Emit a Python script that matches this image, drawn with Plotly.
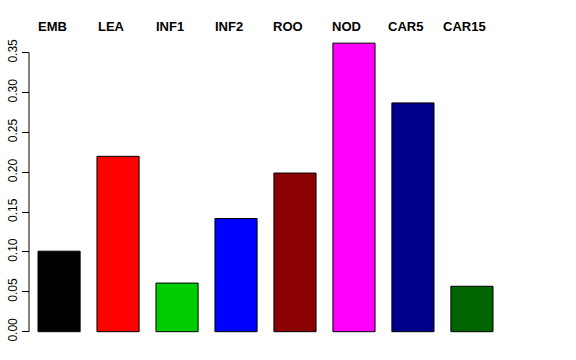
import plotly.graph_objects as go

categories = ["EMB", "LEA", "INF1", "INF2", "ROO", "NOD", "CAR5", "CAR15"]
values = [0.101, 0.220, 0.061, 0.142, 0.199, 0.362, 0.287, 0.057]
colors = ["#000000", "#FF0000", "#00CD00", "#0000FF", "#8B0000", "#FF00FF", "#00008B", "#006400"]
tick_vals = [0.00, 0.05, 0.10, 0.15, 0.20, 0.25, 0.30, 0.35]
tick_text = ["0.00", "0.05", "0.10", "0.15", "0.20", "0.25", "0.30", "0.35"]

# R barplot style positions (width 1, space 0.4)
xpos = [0.9 + 1.4 * i for i in range(len(categories))]

fig = go.Figure()
fig.add_trace(go.Bar(
    x=xpos, y=values, width=1.0,
    marker=dict(color=colors, line=dict(color="#000000", width=1)),
    showlegend=False, hoverinfo="skip",
))

W, H = 576, 360
axis_px = 29
fig.update_layout(
    width=W, height=H,
    margin=dict(l=0, r=0, t=0, b=0),
    plot_bgcolor="white", paper_bgcolor="white",
    font=dict(family="Liberation Sans, Arial, sans-serif", color="black"),
    xaxis=dict(range=[-0.502, 13.17], visible=False, domain=[0, 1]),
    yaxis=dict(
        range=[-0.0355, 0.4161],
        tickvals=tick_vals, ticktext=tick_text,
        tickangle=-90, ticks="outside", ticklen=7, tickcolor="black", tickwidth=1,
        showgrid=False, zeroline=False, showline=False,
        anchor="free", position=axis_px / W,
        tickfont=dict(size=12, color="black"),
        automargin=False,
    ),
)

fig.add_shape(type="line", xref="paper", yref="y",
              x0=axis_px / W, x1=axis_px / W, y0=0, y1=0.35,
              line=dict(color="black", width=1))

for xp, lab in zip(xpos, categories):
    fig.add_annotation(x=xp, y=1 - 27 / H, xref="x", yref="paper", yanchor="middle",
                       text="<b>" + lab + "</b>", showarrow=False, xshift=-7,
                       font=dict(size=13, color="black"))

fig.write_html("out.html",
               config={"displayModeBar": False, "staticPlot": True},
               post_script="document.body.style.margin='0';document.body.style.overflow='hidden';")
